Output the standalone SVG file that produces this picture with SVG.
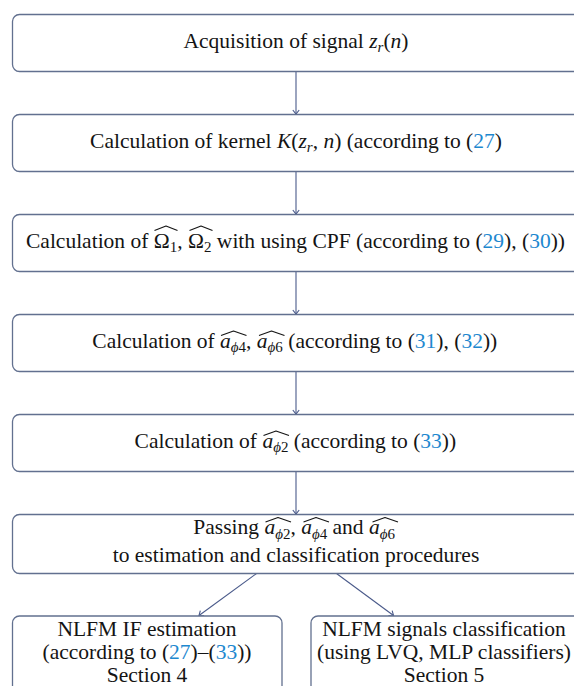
<svg xmlns="http://www.w3.org/2000/svg" width="574" height="686" viewBox="0 0 574 686">
<defs>
<style>
.box{fill:#ffffff;stroke:#62708f;stroke-width:1.3}
.t{font-family:"Liberation Serif","DejaVu Serif",serif;font-size:21.5px;fill:#141414}
.i{font-style:italic}
.s{font-size:15px}
.ref{fill:#1e88cf}
.hat{fill:none;stroke:#141414;stroke-width:1.1;stroke-linejoin:round}
.con{fill:none;stroke:#4a5a8a;stroke-width:1.1;marker-end:url(#ah)}
</style>
<marker id="ah" viewBox="-6 -5 8 10" refX="0" refY="0" markerWidth="8" markerHeight="10" markerUnits="userSpaceOnUse" orient="auto">
<path d="M-4,-3.2 L0,0 L-4,3.2" fill="none" stroke="#4a5a8a" stroke-width="1.1"/>
</marker>
</defs>
<rect width="574" height="686" fill="#ffffff"/>
<g id="connectors">
<line class="con" x1="296" y1="71.5" x2="296" y2="114"/>
<line class="con" x1="296" y1="171.5" x2="296" y2="214"/>
<line class="con" x1="296" y1="271.5" x2="296" y2="314"/>
<line class="con" x1="296" y1="371.5" x2="296" y2="414"/>
<line class="con" x1="296" y1="471.5" x2="296" y2="514"/>
<line class="con" x1="256.5" y1="573.5" x2="199" y2="615.5"/>
<line class="con" x1="336.5" y1="573.5" x2="393.5" y2="615.5"/>
</g>
<g id="n1">
<rect class="box" x="12.5" y="14.5" width="590" height="57" rx="7"/>
<text class="t" x="296" y="47.5" text-anchor="middle">Acquisition of signal <tspan class="i">z</tspan><tspan class="i s" dy="4.5">r</tspan><tspan dy="-4.5">(</tspan><tspan class="i">n</tspan>)</text>
</g>
<g id="n2">
<rect class="box" x="12.5" y="114.5" width="590" height="57" rx="7"/>
<text class="t" x="296" y="147.5" text-anchor="middle">Calculation of kernel <tspan class="i">K</tspan>(<tspan class="i">z</tspan><tspan class="i s" dy="4.5">r</tspan><tspan dy="-4.5">, </tspan><tspan class="i">n</tspan>) (according to (<tspan class="ref">27</tspan>)</text>
</g>
<g id="n3">
<rect class="box" x="12.5" y="214.5" width="590" height="57" rx="7"/>
<text class="t" x="26" y="247.5">Calculation of Ω<tspan class="s" dy="4.5">1</tspan><tspan dy="-4.5">, Ω</tspan><tspan class="s" dy="4.5">2</tspan><tspan dy="-4.5"> with using CPF (according to (</tspan><tspan class="ref">29</tspan>), (<tspan class="ref">30</tspan>))</text>
<path class="hat" d="M154.5,230.5 L166,226 L177.5,230.5"/>
<path class="hat" d="M189.5,230.5 L201,226 L212.5,230.5"/>
</g>
<g id="n4">
<rect class="box" x="12.5" y="314.5" width="590" height="57" rx="7"/>
<text class="t" x="92.3" y="347.5">Calculation of <tspan class="i">a</tspan><tspan class="i s" dy="4.5">ϕ</tspan><tspan class="s">4</tspan><tspan dy="-4.5">, </tspan><tspan class="i">a</tspan><tspan class="i s" dy="4.5">ϕ</tspan><tspan class="s">6</tspan><tspan dy="-4.5"> (according to (</tspan><tspan class="ref">31</tspan>), (<tspan class="ref">32</tspan>))</text>
<path class="hat" d="M221,335.5 L233.5,331 L246.5,335.5"/>
<path class="hat" d="M259,335.5 L271.5,331 L284.5,335.5"/>
</g>
<g id="n5">
<rect class="box" x="12.5" y="414.5" width="590" height="57" rx="7"/>
<text class="t" x="134.6" y="447.5">Calculation of <tspan class="i">a</tspan><tspan class="i s" dy="4.5">ϕ</tspan><tspan class="s">2</tspan><tspan dy="-4.5"> (according to (</tspan><tspan class="ref">33</tspan>))</text>
<path class="hat" d="M263.5,435.5 L276,431 L289,435.5"/>
</g>
<g id="n6">
<rect class="box" x="12.5" y="514.5" width="590" height="59" rx="7"/>
<text class="t" x="193.3" y="534">Passing <tspan class="i">a</tspan><tspan class="i s" dy="4.5">ϕ</tspan><tspan class="s">2</tspan><tspan dy="-4.5">, </tspan><tspan class="i">a</tspan><tspan class="i s" dy="4.5">ϕ</tspan><tspan class="s">4</tspan><tspan dy="-4.5"> and </tspan><tspan class="i">a</tspan><tspan class="i s" dy="4.5">ϕ</tspan><tspan class="s">6</tspan></text>
<path class="hat" d="M265.5,522 L278,517.5 L291,522"/>
<path class="hat" d="M303.5,522 L316,517.5 L329,522"/>
<path class="hat" d="M372.5,522 L385,517.5 L398,522"/>
<text class="t" x="296" y="562" text-anchor="middle">to estimation and classification procedures</text>
</g>
<g id="n7">
<rect class="box" x="12.5" y="616" width="269.5" height="90" rx="7"/>
<text class="t" x="147" y="635.5" text-anchor="middle">NLFM IF estimation</text>
<text class="t" x="147" y="658.5" text-anchor="middle">(according to (<tspan class="ref">27</tspan>)–(<tspan class="ref">33</tspan>))</text>
<text class="t" x="147" y="681.5" text-anchor="middle">Section 4</text>
</g>
<g id="n8">
<rect class="box" x="311" y="616" width="280" height="90" rx="7"/>
<text class="t" x="444" y="635.5" text-anchor="middle">NLFM signals classification</text>
<text class="t" x="444" y="658.5" text-anchor="middle">(using LVQ, MLP classifiers)</text>
<text class="t" x="444" y="681.5" text-anchor="middle">Section 5</text>
</g>
</svg>
